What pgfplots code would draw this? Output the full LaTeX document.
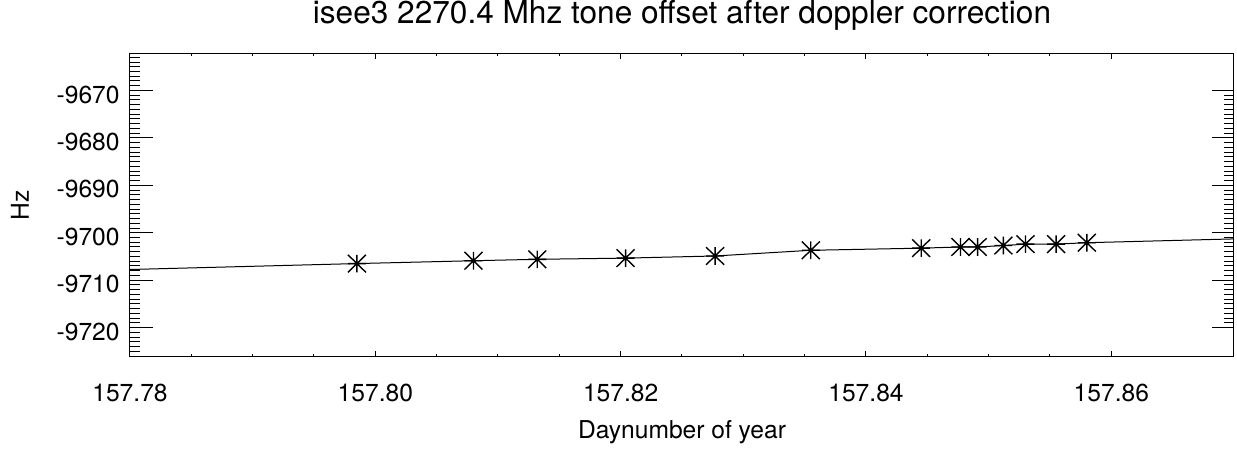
\documentclass[border=0pt]{standalone}
\usepackage{fontspec}
\setmainfont{TeX Gyre Heros}
\usepackage{pgfplots}
\pgfplotsset{compat=1.18}

% IDL-style asterisk: vertical, horizontal and two diagonals
\pgfdeclareplotmark{idlstar}{%
  \pgfpathmoveto{\pgfqpoint{0pt}{-4.4pt}}\pgfpathlineto{\pgfqpoint{0pt}{4.4pt}}%
  \pgfpathmoveto{\pgfqpoint{-4.5pt}{0pt}}\pgfpathlineto{\pgfqpoint{4.5pt}{0pt}}%
  \pgfpathmoveto{\pgfqpoint{-4.5pt}{-4.4pt}}\pgfpathlineto{\pgfqpoint{4.5pt}{4.4pt}}%
  \pgfpathmoveto{\pgfqpoint{-4.5pt}{4.4pt}}\pgfpathlineto{\pgfqpoint{4.5pt}{-4.4pt}}%
  \pgfusepathqstroke}

\pgfplotsset{
  box/.style={
    at={(0,0)}, anchor=south west,
    scale only axis, width=552pt, height=152pt,
    xmin=157.78, xmax=157.87,
    ymin=-9726.2, ymax=-9662.1,
    tick align=inside,
    axis line style={line width=0.5pt},
    tick style={black, line width=0.5pt},
    scaled ticks=false,
    /pgf/number format/assume math mode=true,
    ticklabel style={font=\fontsize{12.3}{14}\selectfont},
  },
  yticks/.style={
    xtick=\empty,
    ytick={-9720,-9710,-9700,-9690,-9680,-9670},
    minor y tick num=9,
    major tick length=11.3pt,
    minor tick length=5pt,
  },
  xticks/.style={
    ytick=\empty,
    xtick={157.78,157.80,157.82,157.84,157.86},
    minor x tick num=3,
    major tick length=3pt,
    minor tick length=1.6pt,
  },
  strip/.style={
    scale only axis,
    axis line style={draw=none},
    tick style={black, line width=0.5pt},
    xticklabels={}, yticklabels={},
  },
}

\begin{document}
\begin{tikzpicture}
\useasboundingbox (-65pt,-46pt) rectangle (553.5pt,178.5pt);

% y ticks with labels
\begin{axis}[
box, yticks,
ytick pos=both,
yticklabel style={/pgf/number format/fixed, /pgf/number format/1000 sep={}},
y tick label style={anchor=east, inner sep=0pt, xshift=-5pt, yshift=-2pt},
ylabel={Hz},
ylabel style={font=\fontsize{12.3}{14}\selectfont, anchor=base, at={([xshift=-50.5pt]axis description cs:0,0.5)}},
]
\end{axis}

% top x ticks, as the lower outward ticks of a strip sitting on the box
\begin{axis}[
strip, xticks,
at={(0,152pt)}, anchor=south west, width=552pt, height=1pt,
xmin=157.78, xmax=157.87, ymin=0, ymax=1,
tick align=outside,
xtick pos=left,
]
\end{axis}

% bottom x ticks, labels and data
\begin{axis}[
box, xticks,
xtick pos=left,
clip=false,
xticklabel style={/pgf/number format/fixed, /pgf/number format/fixed zerofill, /pgf/number format/precision=2},
x tick label style={anchor=base, yshift=-22.3pt},
title={isee3 2270.4 Mhz tone offset after doppler correction},
title style={font=\fontsize{15.8}{18}\selectfont, anchor=base, at={([yshift=9pt]axis description cs:0.5,1)}},
xlabel={Daynumber of year},
xlabel style={font=\fontsize{12.3}{14}\selectfont, anchor=base, at={([yshift=-40.7pt]axis description cs:0.5,0)}},
]

% model line, runs to the axis edges
\addplot[black, line width=0.5pt, mark=none] coordinates {
(157.7800,-9707.75)
(157.7985,-9706.50)
(157.8080,-9705.90)
(157.8132,-9705.60)
(157.8204,-9705.35)
(157.8277,-9704.90)
(157.8355,-9703.70)
(157.8445,-9703.25)
(157.8477,-9703.00)
(157.8491,-9703.00)
(157.8512,-9702.70)
(157.8530,-9702.40)
(157.8555,-9702.40)
(157.8580,-9702.10)
(157.8700,-9701.30)
};

% measured tone offsets
\addplot[black, only marks, mark=idlstar, mark options={line width=0.7pt}] coordinates {
(157.7985,-9706.50)
(157.8080,-9705.90)
(157.8132,-9705.60)
(157.8204,-9705.35)
(157.8277,-9704.90)
(157.8355,-9703.70)
(157.8445,-9703.25)
(157.8477,-9703.00)
(157.8491,-9703.00)
(157.8512,-9702.70)
(157.8530,-9702.40)
(157.8555,-9702.40)
(157.8580,-9702.10)
};

% left-edge tick comb, drawn explicitly along the inner side of the box
\pgfplotsinvokeforeach{-9726,-9725,...,-9663}{
  \draw[black, line width=0.5pt] (axis cs:157.78,#1) -- ++(5pt,0pt);
}
\pgfplotsinvokeforeach{-9720,-9710,...,-9670}{
  \draw[black, line width=0.5pt] (axis cs:157.78,#1) -- ++(11.3pt,0pt);
}

\end{axis}
\end{tikzpicture}
\end{document}
